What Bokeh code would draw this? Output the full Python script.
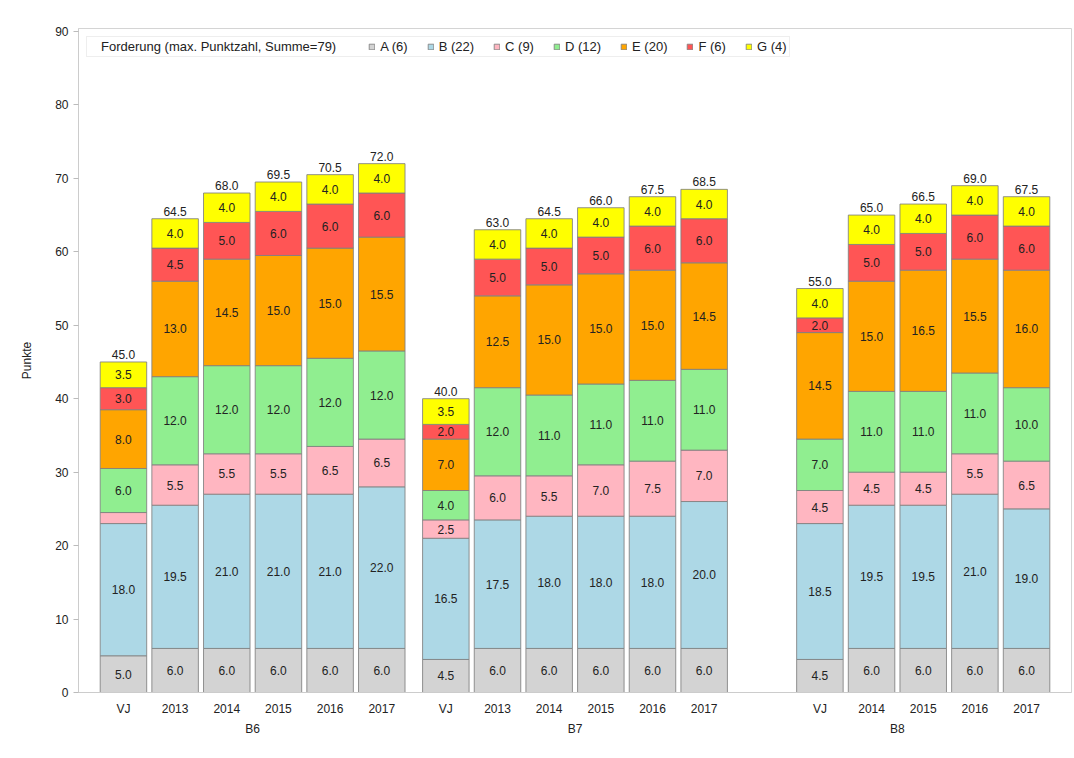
from bokeh.plotting import figure
from bokeh.models import ColumnDataSource, FactorRange, Range1d, FixedTicker, Legend, LegendItem
from bokeh.embed import file_html
from bokeh.resources import INLINE
from bokeh.core.properties import value

# ---------------- data ----------------
groups = ["B6"] * 6 + ["B7"] * 6 + ["B8"] * 5
years = ["VJ", "2013", "2014", "2015", "2016", "2017",
         "VJ", "2013", "2014", "2015", "2016", "2017",
         "VJ", "2014", "2015", "2016", "2017"]
A = [5.0, 6.0, 6.0, 6.0, 6.0, 6.0, 4.5, 6.0, 6.0, 6.0, 6.0, 6.0, 4.5, 6.0, 6.0, 6.0, 6.0]
B = [18.0, 19.5, 21.0, 21.0, 21.0, 22.0, 16.5, 17.5, 18.0, 18.0, 18.0, 20.0, 18.5, 19.5, 19.5, 21.0, 19.0]
C = [1.5, 5.5, 5.5, 5.5, 6.5, 6.5, 2.5, 6.0, 5.5, 7.0, 7.5, 7.0, 4.5, 4.5, 4.5, 5.5, 6.5]
D = [6.0, 12.0, 12.0, 12.0, 12.0, 12.0, 4.0, 12.0, 11.0, 11.0, 11.0, 11.0, 7.0, 11.0, 11.0, 11.0, 10.0]
E = [8.0, 13.0, 14.5, 15.0, 15.0, 15.5, 7.0, 12.5, 15.0, 15.0, 15.0, 14.5, 14.5, 15.0, 16.5, 15.5, 16.0]
F = [3.0, 4.5, 5.0, 6.0, 6.0, 6.0, 2.0, 5.0, 5.0, 5.0, 6.0, 6.0, 2.0, 5.0, 5.0, 6.0, 6.0]
G = [3.5, 4.0, 4.0, 4.0, 4.0, 4.0, 3.5, 4.0, 4.0, 4.0, 4.0, 4.0, 4.0, 4.0, 4.0, 4.0, 4.0]
series = ["A", "B", "C", "D", "E", "F", "G"]
legend_labels = ["A (6)", "B (22)", "C (9)", "D (12)", "E (20)", "F (6)", "G (4)"]
legend_title = "Forderung (max. Punktzahl, Summe=79)"
y_ticks = [0, 10, 20, 30, 40, 50, 60, 70, 80, 90]
colors = ["#d3d3d3", "#add8e6", "#ffb6c1", "#90ee90", "#ffa500", "#ff5555", "#ffff00"]

FONT = "Liberation Sans"

# ---------------- sources ----------------
values = dict(zip(series, [A, B, C, D, E, F, G]))
xs = list(zip(groups, years))
data = {"x": xs}
data.update(values)
source = ColumnDataSource(data)

# factors (B8 has an empty first slot)
factors = []
for g, y in xs:
    if g == "B8" and y == "VJ":
        factors.append(("B8", " "))
    factors.append((g, y))

# segment labels
lx, ly, lt = [], [], []
totals = []
for i, x in enumerate(xs):
    base = 0.0
    for s in series:
        v = values[s][i]
        lx.append(x)
        ly.append(base + v / 2.0)
        lt.append(f"{v:.1f}" if v >= 2 else "")
        base += v
    totals.append(base)
seg_src = ColumnDataSource(dict(x=lx, y=ly, t=lt))
tot_src = ColumnDataSource(dict(x=xs, y=totals, t=[f"{t:.1f}" for t in totals]))

# ---------------- figure ----------------
p = figure(
    x_range=FactorRange(factors=factors, factor_padding=0.0, group_padding=0.24,
                        range_padding=0.37, range_padding_units="absolute"),
    y_range=Range1d(0, 90.4),
    width=1074, height=756,
    output_backend="svg", toolbar_location=None,
    min_border_left=78, min_border_top=28, min_border_right=3, min_border_bottom=64,
)
p.outline_line_color = "#d4d4d4"
p.xgrid.grid_line_color = None
p.ygrid.grid_line_color = None

renderers = p.vbar_stack(series, x="x", width=0.9, source=source, color=colors,
                         line_color="#808080", line_alpha=0.85, line_width=1)

# invisible renderer used only to show the legend heading as the first entry
title_r = p.vbar(x=[], top=[], width=0.9, fill_alpha=0, line_alpha=0)

p.text(x="x", y="y", text="t", source=seg_src, text_align="center", text_baseline="middle",
       text_font=value(FONT), text_font_size="12px", text_color="#222222")
p.text(x="x", y="y", text="t", source=tot_src, text_align="center", text_baseline="bottom",
       y_offset=-3, text_font=value(FONT), text_font_size="12px", text_color="#222222")

# axes
p.yaxis.ticker = FixedTicker(ticks=y_ticks)
p.yaxis.axis_label = "Punkte"
p.yaxis.axis_label_text_font = FONT
p.yaxis.axis_label_text_font_style = "normal"
p.yaxis.axis_label_text_font_size = "12px"
p.yaxis.axis_label_text_color = "#222222"
p.yaxis.axis_label_standoff = 18
p.yaxis.major_label_text_font = FONT
p.yaxis.major_label_text_font_size = "12px"
p.yaxis.major_label_text_color = "#222222"
p.yaxis.axis_line_color = "#cccccc"
p.yaxis.major_tick_line_color = "#bbbbbb"
p.yaxis.major_tick_out = 5
p.yaxis.major_tick_in = 0
p.yaxis.minor_tick_line_color = None

p.xaxis.axis_line_color = "#cccccc"
p.xaxis.major_tick_line_color = None
p.xaxis.minor_tick_line_color = None
p.xaxis.major_label_standoff = 3
p.xaxis.major_label_text_font = FONT
p.xaxis.major_label_text_font_size = "12px"
p.xaxis.major_label_text_color = "#222222"
p.xaxis.group_text_font = FONT
p.xaxis.group_text_font_size = "12px"
p.xaxis.group_text_font_style = "normal"
p.xaxis.group_text_color = "#222222"
p.xaxis.separator_line_color = None

# legend
items = [LegendItem(label=legend_title + "\u2002\u2002", renderers=[title_r])]
items += [LegendItem(label=lab, renderers=[r]) for lab, r in zip(legend_labels, renderers)]
legend = Legend(items=items, orientation="horizontal", location="top_left",
                label_text_font=FONT, label_text_font_size="13px", label_text_color="#222222",
                glyph_width=7, glyph_height=7, label_standoff=5, spacing=19,
                label_height=13, padding=2, margin=8,
                border_line_color="#dddddd", background_fill_color="white")
p.add_layout(legend)

open("out.html", "w").write(file_html(p, INLINE))
